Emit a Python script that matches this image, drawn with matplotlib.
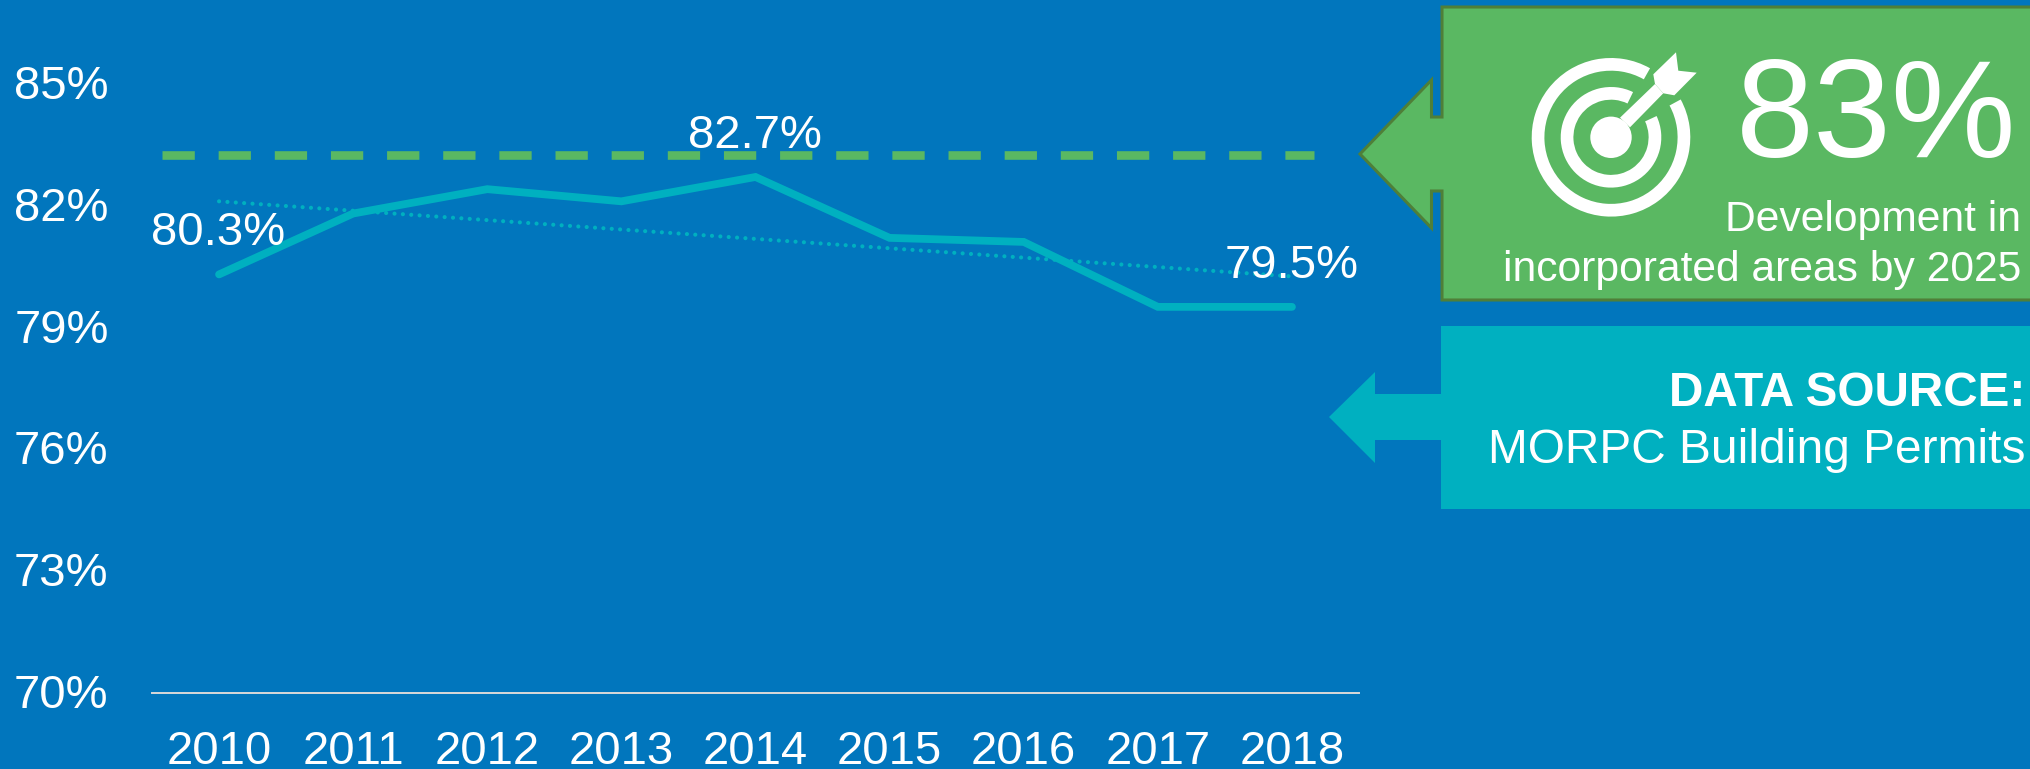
import matplotlib
matplotlib.use('Agg')
import matplotlib.pyplot as plt
from matplotlib.patches import Polygon, Wedge, Circle
from matplotlib.transforms import ScaledTranslation

plt.rcParams['font.family'] = ['Liberation Sans', 'DejaVu Sans']

years = [2010, 2011, 2012, 2013, 2014, 2015, 2016, 2017, 2018]
share = [80.3, 81.8, 82.4, 82.1, 82.7, 81.2, 81.1, 79.5, 79.5]
y_ticks = [70, 73, 76, 79, 82, 85]
target_x = [2009.575, 2018.165]
target_y = [83.25, 83.25]
trend_x = [2010, 2018]
trend_y = [82.1, 80.25]
labelled = {2010: '80.3%', 2014: '82.7%', 2018: '79.5%'}

BLUE = '#0176BD'
GREEN = '#5AB862'
DARK_GREEN = '#4F7F38'
TEAL = '#00B0C0'
W, H = 2031, 769

fig = plt.figure(figsize=(W / 100, H / 100), dpi=100, facecolor=BLUE)

# overlay in pixels for the callouts
bg = fig.add_axes([0, 0, 1, 1], zorder=1)
bg.set_xlim(0, W)
bg.set_ylim(H, 0)
bg.axis('off')

bg.add_patch(Polygon([(1360, 154), (1431.5, 80), (1431.5, 117), (1442, 117), (1442, 7), (2040, 7),
                      (2040, 300), (1442, 300), (1442, 191), (1431.5, 191), (1431.5, 228)],
                     closed=True, fc=GREEN, ec=DARK_GREEN, lw=2.2))
bg.add_patch(Polygon([(1329, 417), (1375, 372), (1375, 394), (1441, 394), (1441, 326), (2040, 326),
                      (2040, 509), (1441, 509), (1441, 440), (1375, 440), (1375, 463)],
                     closed=True, fc=TEAL, ec='none'))

# target icon
cx, cy = 1611, 137.3
bg.add_patch(Wedge((cx, cy), 79.3, -28.5, 299.5, width=12.7, fc='white', ec='none'))
bg.add_patch(Wedge((cx, cy), 50.3, -25, 296, width=12.7, fc='white', ec='none'))
bg.add_patch(Circle((cx, cy), 20.7, fc='white', ec='none'))
bg.add_patch(Polygon([(1620, 117.7), (1655, 84), (1663.3, 93.3), (1630, 127.3)], closed=True, fc='white', ec='none'))
bg.add_patch(Polygon([(1653.3, 74.3), (1676, 52.3), (1678.3, 70.7), (1696.7, 72.7), (1674.3, 95.3),
                      (1663.3, 93.3), (1655, 84)], closed=True, fc='white', ec='none'))

bg.text(2016, 157, '83%', color='white', fontsize=101, ha='right', va='baseline')
bg.text(2021, 231, 'Development in', color='white', fontsize=30.7, ha='right', va='baseline')
bg.text(2021, 281, 'incorporated areas by 2025', color='white', fontsize=30.7, ha='right', va='baseline')
bg.text(2025, 406, 'DATA SOURCE:', color='white', fontsize=34.3, fontweight='bold', ha='right', va='baseline')
bg.text(2025, 463, 'MORPC Building Permits', color='white', fontsize=34.5, ha='right', va='baseline')

ax = fig.add_axes([152 / W, (H - 692.5) / H, 1207 / W, 692.5 / H], zorder=2)
ax.patch.set_alpha(0)
ax.plot(target_x, target_y, color=GREEN, lw=6.2, dashes=(3.75, 2.77), dash_capstyle='butt')
ax.plot(trend_x, trend_y, color=TEAL, lw=3, dashes=(0.01, 2), dash_capstyle='round')
ax.plot(years, share, color=TEAL, lw=5.6, solid_capstyle='round', solid_joinstyle='miter')

for x, v in zip(years, share):
    if x in labelled:
        ax.annotate(labelled[x], (x, v), xytext=(-0.5, 21), textcoords='offset points',
                    color='white', fontsize=34, ha='center', va='baseline', annotation_clip=False)

ax.set_xlim(2009.5, 2018.5)
ax.set_ylim(70, 87.06)
ax.set_xticks(years)
ax.set_xticklabels([str(y) for y in years])
ax.set_yticks(y_ticks)
ax.set_yticklabels(['%d%%' % t for t in y_ticks])
ax.tick_params(axis='both', length=0, labelcolor='white', labelsize=34)
ax.tick_params(axis='x', pad=26.8)
ax.tick_params(axis='y', pad=31.3)
up = ScaledTranslation(0, 1.2 / 72, fig.dpi_scale_trans)
for lbl in ax.get_yticklabels():
    lbl.set_transform(lbl.get_transform() + up)
for s in ['top', 'left', 'right']:
    ax.spines[s].set_visible(False)
ax.spines['bottom'].set_color('#D9D9D9')
ax.spines['bottom'].set_linewidth(1.4)

fig.savefig('out.png', dpi=100, facecolor=BLUE)
